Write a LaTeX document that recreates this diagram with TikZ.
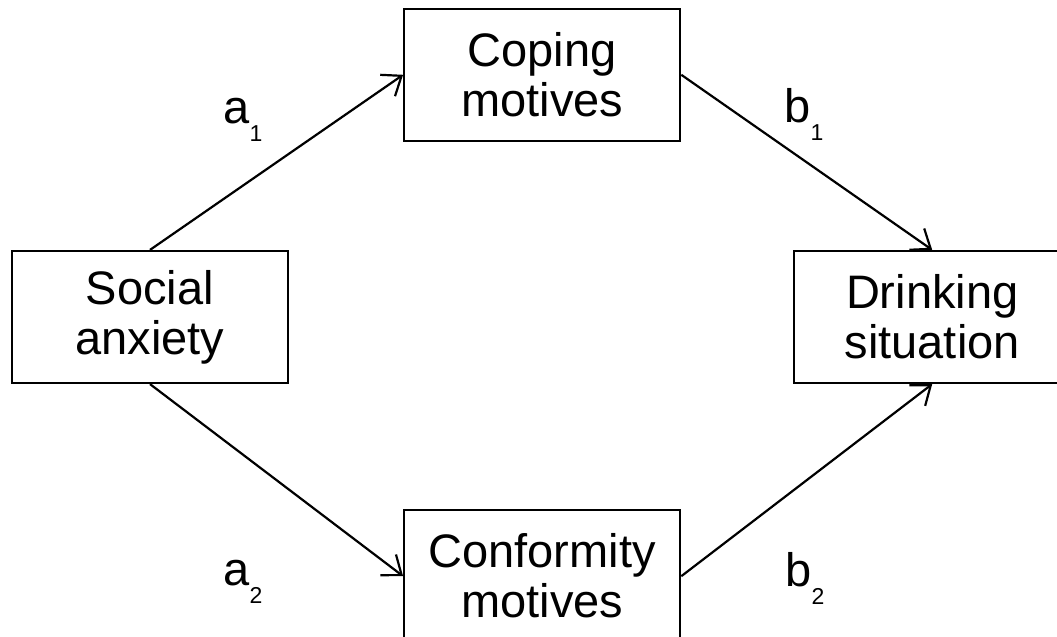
\documentclass[tikz,border=0pt]{standalone}
\usepackage{fontspec}
\setmainfont{Liberation Sans}
\usepackage{tikz}
\usetikzlibrary{positioning,arrows.meta}
\tikzset{>={Straight Barb[length=8.5pt,width=13pt]}}
\tikzset{
    box/.style={draw, line width=1.1pt, minimum width=138pt, minimum height=66pt,
        inner sep=0pt, align=center, font=\fontsize{23.5}{25}\selectfont},
    lbl/.style={anchor=base west, inner sep=0pt, font=\fontsize{23.5}{25}\selectfont},
    link/.style={->, line width=1.1pt}
}
\newcommand{\subidx}[1]{\raisebox{-9pt}{\fontsize{11.5}{11.5}\selectfont #1}}

\begin{document}
\begin{tikzpicture}
    \useasboundingbox (-75pt,-160pt) rectangle (453.5pt,158.5pt);
    % set up the nodes
    \node[box] (social) at (0,0) {Social\\anxiety};
    \node[box, right=252pt of social] (drinking) {Drinking\\situation};
    \node[box, above right=54pt and 57pt of social] (coping) {Coping\\motives};
    \node[box, below right=62.5pt and 57pt of social] (conformity) {Conformity\\motives};
    % path labels
    \node[lbl] (a1) at (36.5pt,96.5pt) {a\subidx{1}};
    \node[lbl] (a2) at (36.5pt,-134.5pt) {a\subidx{2}};
    \node[lbl] (b1) at (317pt,97pt) {b\subidx{1}};
    \node[lbl] (b2) at (317.5pt,-135pt) {b\subidx{2}};
    % draw arrows between them
    \draw[link] (social.north)--(coping.west);
    \draw[link] (social.south)--(conformity.west);
    \draw[link] (coping.east)--(drinking.north);
    \draw[link] (conformity.east)--(drinking.south);
\end{tikzpicture}
\end{document}
